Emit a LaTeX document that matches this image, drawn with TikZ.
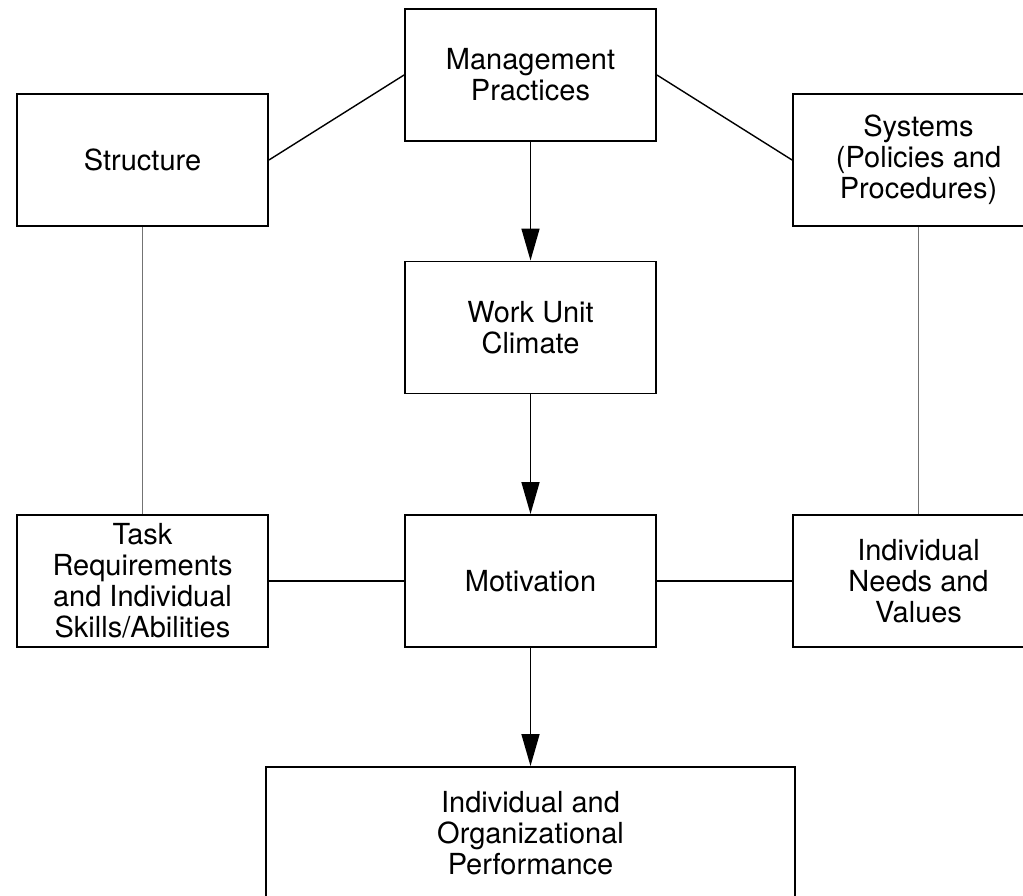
\documentclass[tikz,border=0pt]{standalone}
\usepackage{fontspec}
\setmainfont{TeX Gyre Heros}
\usetikzlibrary{arrows.meta}

\begin{document}
\begin{tikzpicture}[x=0.02cm, y=-0.02cm,
    box/.style={rectangle, draw, line width=1.1pt, minimum width=5.02cm, minimum height=2.64cm,
        inner sep=0pt, align=center, font=\fontsize{16.5}{17.6}\selectfont},
    flow/.style={-{Triangle[length=0.64cm, width=0.36cm]}, line width=0.9pt},
    link/.style={line width=0.8pt},
    grey/.style={line width=1pt, black!55}]
        \useasboundingbox (0,0) rectangle (1023,895);
        \clip (0,0) rectangle (1023,895);

        % Riquadri
        \node[box] (mgmt) at (530.5,75) {Management\\Practices};
        \node[box] (struct) at (142.5,160) {Structure};
        \node[box] (sys) at (918.5,160) {Systems\\(Policies and\\Procedures)};
        \node[box] (climate) at (530.5,327.5) {Work Unit\\Climate};
        \node[box] (task) at (142.5,581) {Task\\Requirements\\and Individual\\Skills/Abilities};
        \node[box] (motiv) at (530.5,581) {Motivation};
        \node[box] (needs) at (918.5,581) {Individual\\Needs and\\Values};
        \node[box, minimum width=10.58cm] (perf) at (530.5,833) {Individual and\\Organizational\\Performance};

        % Collegamenti
        \draw[link] (mgmt.west) -- (struct.east); % Management - Structure
        \draw[link] (mgmt.east) -- (sys.west); % Management - Systems
        \draw[flow] (mgmt) -- (climate); % Management - Climate
        \draw[flow] (climate) -- (motiv); % Climate - Motivation
        \draw[flow] (motiv) -- (perf); % Motivation - Performance
        \draw[grey] (struct) -- (task); % Structure - Task
        \draw[grey] (sys) -- (needs); % Systems - Needs
        \draw[link] (task) -- (motiv); % Task - Motivation
        \draw[link] (motiv) -- (needs); % Motivation - Needs

    \end{tikzpicture}
\end{document}
